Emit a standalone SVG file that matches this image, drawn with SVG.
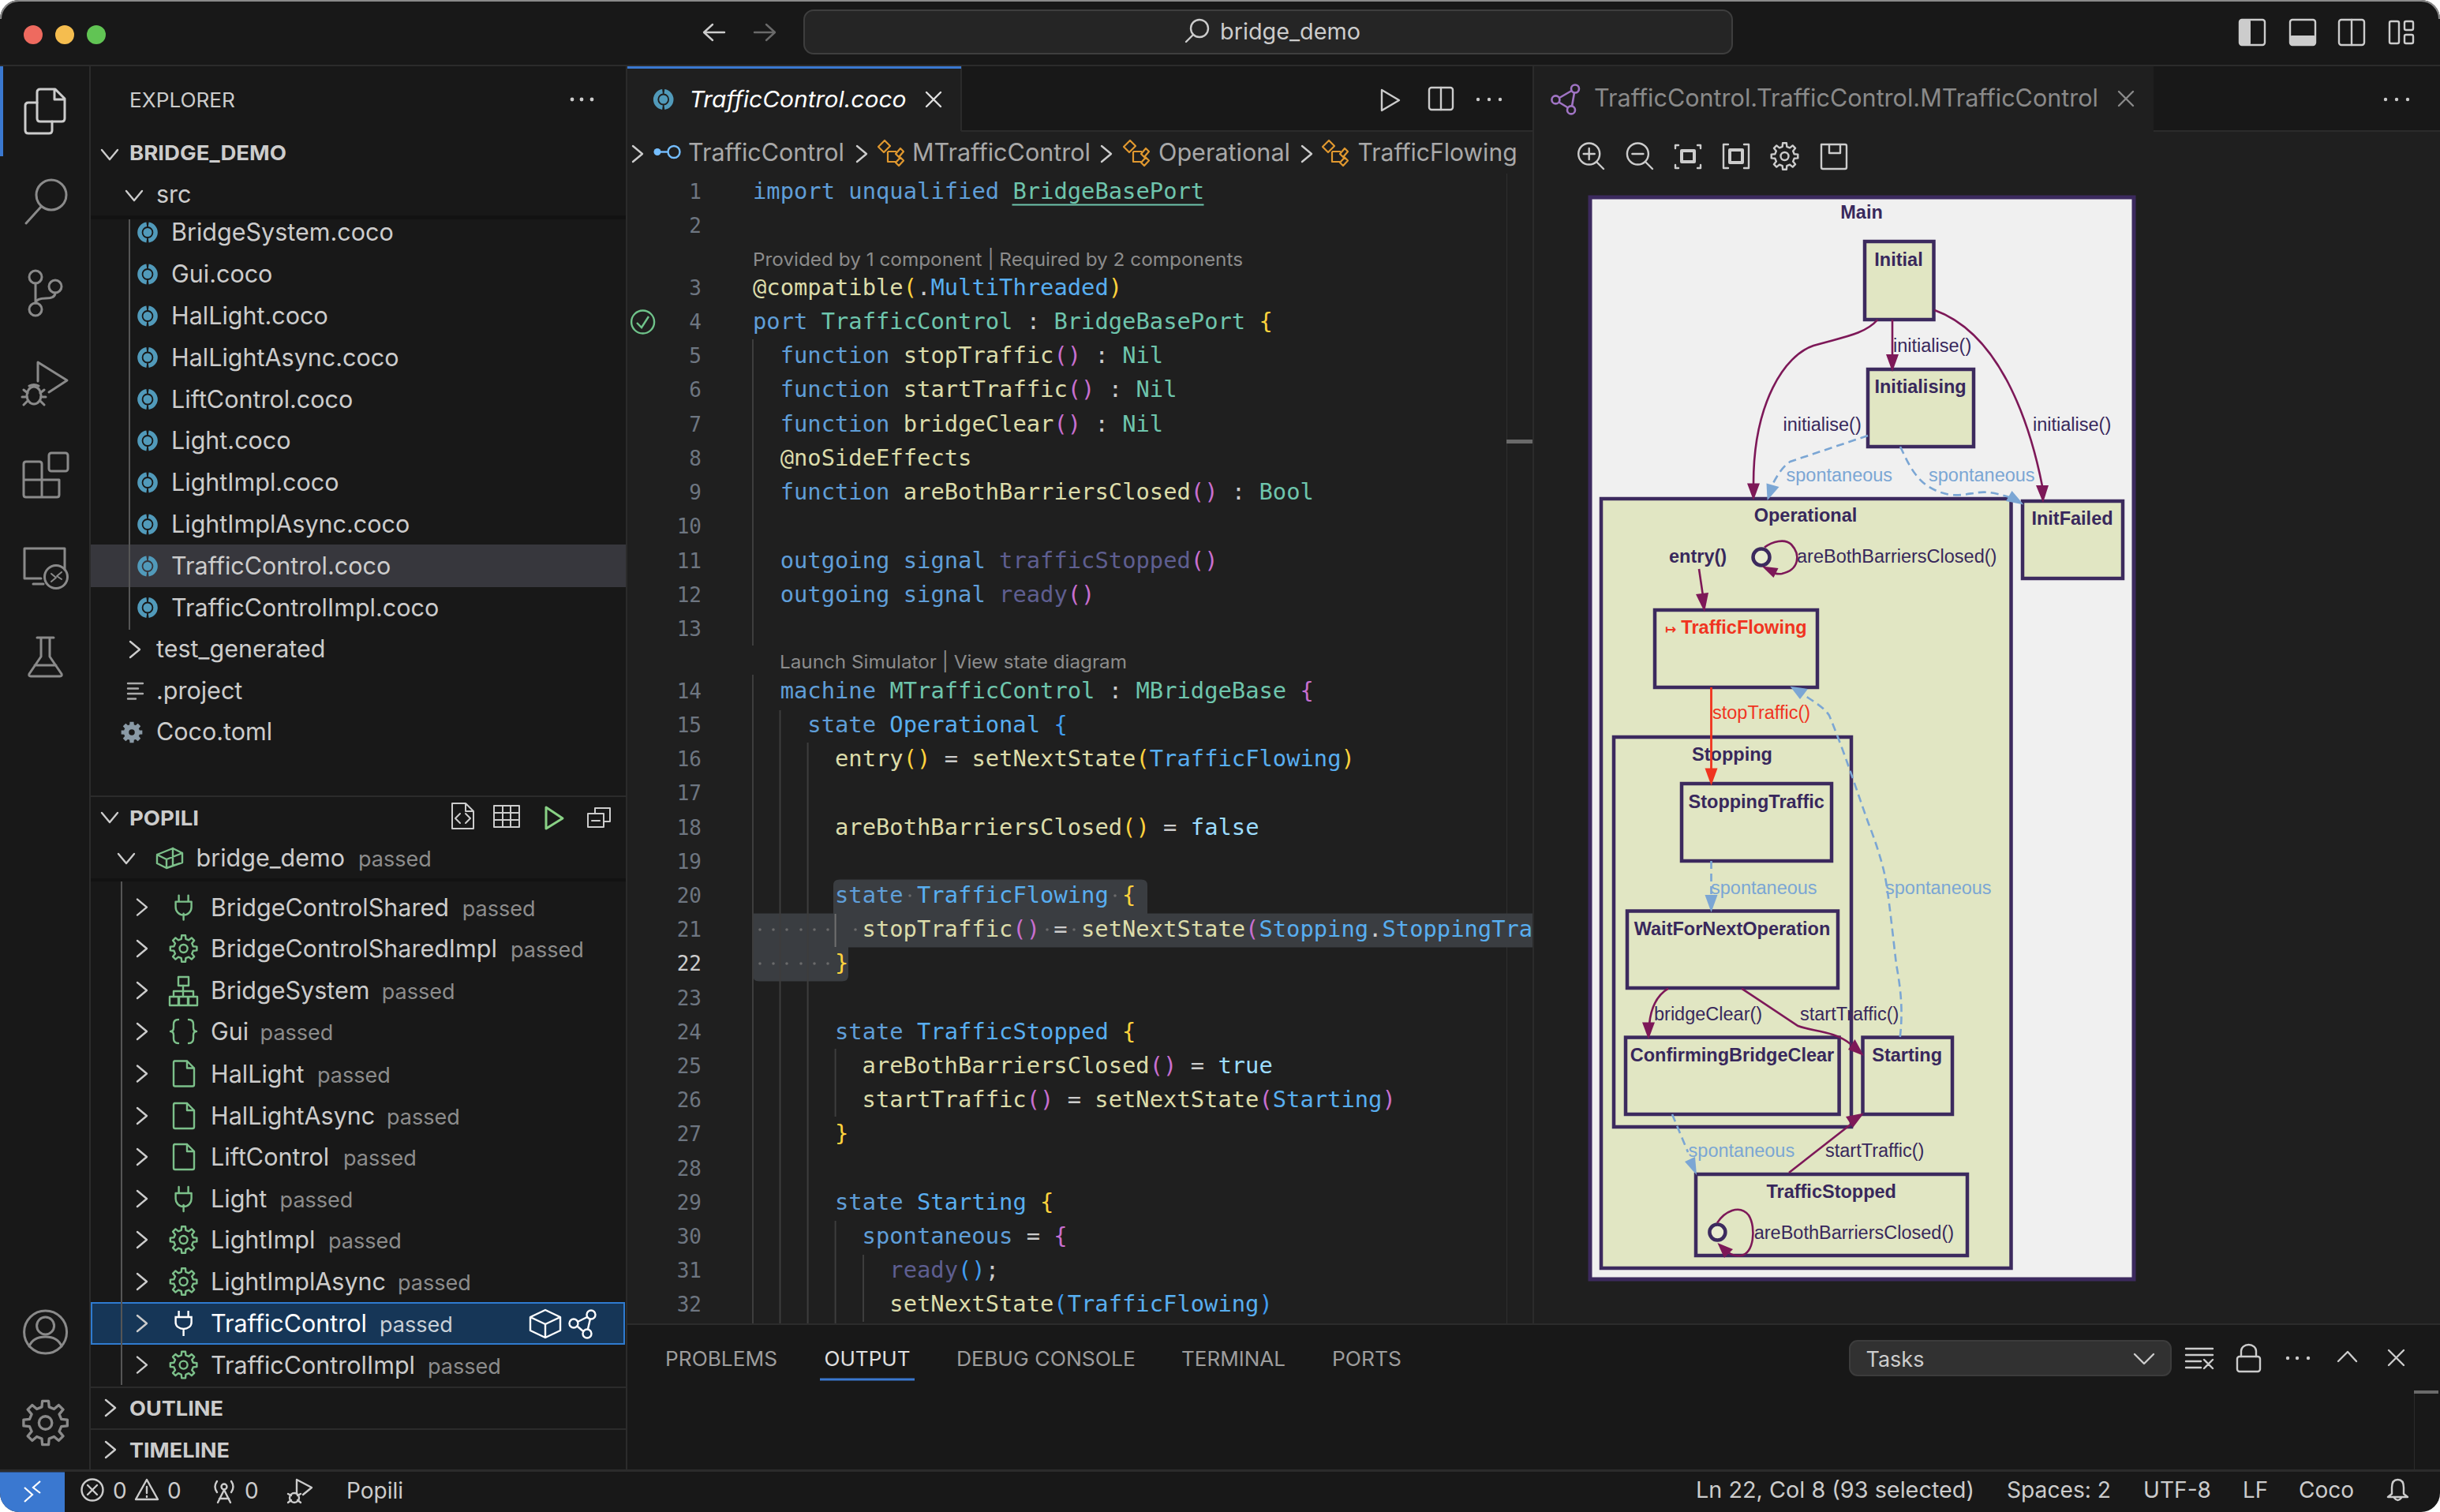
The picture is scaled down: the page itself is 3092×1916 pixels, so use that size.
<svg xmlns="http://www.w3.org/2000/svg" xmlns:xlink="http://www.w3.org/1999/xlink" width="3092" height="1916" viewBox="0 0 3092 1916">
<style>
text{font-family:"Inter","Liberation Sans",sans-serif;white-space:pre}
.ui{font-size:30.5px;fill:#cccccc}
.hd{font-size:25.5px;fill:#cccccc}
.hb{font-size:25.5px;fill:#cccccc;font-weight:700}
.ps{font-size:27px;fill:#8c8c8c}
.st{font-size:28px;fill:#cccccc}
.pn{font-size:25.5px;fill:#9d9d9d}
.ln{font-family:"DejaVu Sans Mono","Liberation Mono",monospace;font-size:26px;fill:#6e7681;text-anchor:end}
.c{font-family:"DejaVu Sans Mono","Liberation Mono",monospace;font-size:28.8px;fill:#cccccc}
.cl{font-size:23.5px;fill:#8c8c8c}
.k{fill:#5f9ed8}.t{fill:#6ec5ad}.f{fill:#dcdcaa}.p{fill:#c86fd0}.y{fill:#ffd33d}.b{fill:#3f9cf0}.s{fill:#58aef0}.g{fill:#5e5e90}.w{fill:#cccccc}.l{fill:#9cdcfe}
.ic{fill:none;stroke:#cccccc;stroke-width:2.4;stroke-linecap:round;stroke-linejoin:round}
.ac{fill:none;stroke:#8a8a8a;stroke-width:3;stroke-linecap:round;stroke-linejoin:round}
.gr{fill:none;stroke:#7cc08a;stroke-width:2.4;stroke-linecap:round;stroke-linejoin:round}
.or{fill:none;stroke:#e0982f;stroke-width:2.2;stroke-linejoin:round}
.gd{stroke:#3d3d3d;stroke-width:2;fill:none}
.ws{fill:#6a6a6a}
.box{fill:#e1e6c3;stroke:#3c2a5e;stroke-width:4.5}
.nm{font-family:"Liberation Sans",Arial,sans-serif;font-size:23.5px;font-weight:700;fill:#38285c;text-anchor:middle}
.lb{font-family:"Liberation Sans",Arial,sans-serif;font-size:23.5px;fill:#38285c}
.sp{font-family:"Liberation Sans",Arial,sans-serif;font-size:23.5px;fill:#7ba6d4}
.e1{fill:none;stroke:#7d1858;stroke-width:2.6}
.e2{fill:none;stroke:#7ba6d4;stroke-width:2.6;stroke-dasharray:10 6}
.h1{fill:#7d1858}.h2{fill:#7ba6d4}
</style>
<defs>
<g id="coco"><path d="M1.2,-10.2A10.3,10.3 0 0 1 1.2,10.2M-1.2,10.2A10.3,10.3 0 0 1 -1.2,-10.2" fill="none" stroke="#519aba" stroke-width="5.5"/><circle r="5.5" fill="#519aba"/></g>
<polygon id="gearp" points="-2.8,-12.2 -2.4,-16.8 2.4,-16.8 2.8,-12.2 6.6,-10.6 10.2,-13.6 13.6,-10.2 10.6,-6.6 12.2,-2.8 16.8,-2.4 16.8,2.4 12.2,2.8 10.6,6.6 13.6,10.2 10.2,13.6 6.6,10.6 2.8,12.2 2.4,16.8 -2.4,16.8 -2.8,12.2 -6.6,10.6 -10.2,13.6 -13.6,10.2 -10.6,6.6 -12.2,2.8 -16.8,2.4 -16.8,-2.4 -12.2,-2.8 -10.6,-6.6 -13.6,-10.2 -10.2,-13.6 -6.6,-10.6"/>
<g id="gear" class="gr"><use href="#gearp"/><circle r="5"/></g>
<g id="plug" class="gr"><path d="M-6,-16V-8M6,-16V-8M-10,-8H10V-1A8,8 0 0 1 -10,-1ZM0,7V15" transform="translate(0,1)"/></g>
<g id="file" class="gr"><path d="M-12,-16H4L13,-7V14Q13,16 11,16H-11Q-13,16 -13,14V-14Q-13,-16 -11,-16ZM4,-16V-7H13"/></g>
<path id="chev" d="M-6,-10L6,0L-6,10" class="ic"/>
<path id="chevd" d="M-10,-6L0,6L10,-6" class="ic"/>
<g id="orange" class="or"><path d="M-17,-8L-9,-16L-2,-9L-10,-1ZM5,1L11,-6L15,-2L9,5ZM5,12L11,5.5L15,9.5L9,16Z"/><path d="M-5,-2H6M-5,-2V11H5"/></g>
</defs>

<g id="window">
<rect width="3092" height="1916" fill="#ffffff"/>
<rect x="0" y="0" width="3092" height="1916" rx="24" fill="#181818"/>
<path d="M1,24A23,23 0 0 1 24,1H3068A23,23 0 0 1 3091,24" fill="none" stroke="#8a8a8a" stroke-width="2"/>
</g>

<g id="titlebar">
<circle cx="42" cy="44" r="12" fill="#ee6a5f"/><circle cx="82" cy="44" r="12" fill="#f5bd4f"/><circle cx="122" cy="44" r="12" fill="#61c454"/>
<path d="M918,41H893M903,31L892,41L903,51" class="ic"/>
<path d="M956,41H981M971,31L982,41L971,51" class="ic" style="stroke:#6a6a6a"/>
<rect x="1019" y="13" width="1176" height="55" rx="12" fill="#252525" stroke="#3e3e3e" stroke-width="2"/>
<circle cx="1520" cy="36" r="11" class="ic"/><path d="M1512,44L1503,53" class="ic"/>
<text x="1546" y="50" class="st" textLength="178" lengthAdjust="spacingAndGlyphs">bridge_demo</text>
<g class="ic"><rect x="2838" y="25" width="32" height="32" rx="3"/><rect x="2902" y="25" width="32" height="32" rx="3"/><rect x="2964" y="25" width="32" height="32" rx="3"/><path d="M2980,25V57"/><rect x="3028" y="27" width="12" height="28" rx="2"/><rect x="3047" y="27" width="11" height="11" rx="2"/><rect x="3047" y="44" width="11" height="11" rx="2"/></g>
<rect x="2838" y="25" width="14" height="32" rx="2" fill="#cccccc"/><rect x="2902" y="45" width="32" height="12" rx="2" fill="#cccccc"/>
<rect x="0" y="82" width="3092" height="2" fill="#2b2b2b"/>
</g>

<g id="activitybar">
<rect x="113" y="84" width="2" height="1780" fill="#2b2b2b"/>
<rect x="0" y="84" width="4" height="114" fill="#3a78d0"/>
<g class="ac" style="stroke:#cccccc"><path d="M47,130H36Q32,130 32,134V165Q32,169 36,169H62Q66,169 66,165V154"/><path d="M51,113H70L82,125V150Q82,154 78,154H51Q47,154 47,150V117Q47,113 51,113ZM69,113V126H82"/></g>
<g class="ac"><circle cx="65" cy="247" r="19"/><path d="M52,262L33,283"/>
<circle cx="45" cy="351" r="8"/><circle cx="70" cy="363" r="8"/><circle cx="45" cy="392" r="8"/><path d="M45,359V384M70,371Q70,378 58,378Q46,378 45,384"/>
<path d="M48,483V459L85,482L62,497"/><ellipse cx="43" cy="501" rx="9" ry="11"/><path d="M37,489Q43,486 49,489M30,494L35,498M28,503H34M30,513L35,508M56,494L51,498M58,503H52M56,513L51,508"/>
<path d="M30,608V588Q30,585 33,585H50Q53,585 53,588V630M30,608H75M30,608V627Q30,630 33,630H72Q75,630 75,627V608"/><rect x="62" y="574" width="24" height="23" rx="3"/>
<path d="M82,722V695H31V733H52M42,740H55"/><circle cx="71" cy="731" r="14.5"/><path d="M65,727L71,732L65,737M78,725L72,730L78,734" style="stroke-width:2"/>
<path d="M47,808H68M52,808V832L37,854Q36,857 39,857H76Q79,857 78,854L63,832V808M44,843H71"/>
<circle cx="57.6" cy="1688" r="27"/><circle cx="57.6" cy="1680" r="11"/><path d="M37,1706Q42,1694 57.6,1694Q73,1694 78,1706"/>
<g transform="translate(57.6,1803) scale(1.65)" style="stroke-width:2"><use href="#gearp"/><circle r="5"/></g></g>
</g>

<g id="sidebar">
<rect x="793" y="84" width="2" height="1780" fill="#2b2b2b"/>
<text x="164" y="136" class="hd" textLength="134" lengthAdjust="spacingAndGlyphs">EXPLORER</text>
<g fill="#cccccc"><circle cx="725" cy="126" r="2.4"/><circle cx="737" cy="126" r="2.4"/><circle cx="750" cy="126" r="2.4"/></g>
<use href="#chevd" x="139" y="196"/>
<text x="164" y="203" class="hb" textLength="199" lengthAdjust="spacingAndGlyphs">BRIDGE_DEMO</text>
<use href="#chevd" x="170" y="248"/>
<text x="198" y="257" class="ui">src</text>
<rect x="115" y="273" width="678" height="5" fill="#121212"/>
<rect x="115" y="690" width="678" height="54" fill="#37373d"/>
<rect x="163" y="278" width="2" height="520" fill="#555555"/>
<use href="#coco" x="187" y="294.5"/><text x="217" y="305" class="ui">BridgeSystem.coco</text>
<use href="#coco" x="187" y="347.5"/><text x="217" y="358" class="ui">Gui.coco</text>
<use href="#coco" x="187" y="400.5"/><text x="217" y="411" class="ui">HalLight.coco</text>
<use href="#coco" x="187" y="453"/><text x="217" y="463.5" class="ui">HalLightAsync.coco</text>
<use href="#coco" x="187" y="506"/><text x="217" y="516.5" class="ui">LiftControl.coco</text>
<use href="#coco" x="187" y="558.5"/><text x="217" y="569" class="ui">Light.coco</text>
<use href="#coco" x="187" y="611.5"/><text x="217" y="622" class="ui">LightImpl.coco</text>
<use href="#coco" x="187" y="664.5"/><text x="217" y="675" class="ui">LightImplAsync.coco</text>
<use href="#coco" x="187" y="717.5"/><text x="217" y="728" class="ui">TrafficControl.coco</text>
<use href="#coco" x="187" y="770"/><text x="217" y="780.5" class="ui">TrafficControlImpl.coco</text>
<use href="#chev" x="171" y="823"/><text x="198" y="833" class="ui">test_generated</text>
<path d="M162,866H181M162,872.5H175M162,879H181M162,885.5H172" class="ic" style="stroke:#aaaaaa"/><text x="198" y="885.5" class="ui">.project</text>
<g transform="translate(167,928) scale(.75)"><use href="#gearp" style="fill:#8a9aa6;stroke:#8a9aa6;stroke-width:2"/><circle r="5" fill="#181818"/></g><text x="198" y="938" class="ui">Coco.toml</text>

<rect x="115" y="1008" width="678" height="2" fill="#2b2b2b"/>
<use href="#chevd" x="139" y="1036"/>
<text x="164" y="1045.5" class="hb" textLength="88" lengthAdjust="spacingAndGlyphs">POPILI</text>
<g class="ic"><path d="M573,1018H590L600,1028V1050H573ZM590,1018V1028H600M583,1031L577,1037L583,1043M590,1031L596,1037L590,1043" style="stroke-width:2"/><rect x="626" y="1021" width="32" height="27" style="stroke-width:2"/><path d="M626,1030H658M626,1039H658M637,1021V1048M647,1021V1048" style="stroke-width:2"/>
<path d="M754,1031V1024H773V1041H766M745,1031H765V1048H745ZM750,1040H760" style="stroke-width:2"/></g>
<path d="M692,1023L713,1037L692,1050Z" fill="none" stroke="#89d185" stroke-width="3" stroke-linejoin="round"/>
<use href="#chevd" x="160" y="1088"/>
<path d="M199,1083L219,1075L231,1081V1093L211,1100L199,1094ZM199,1083L211,1089L231,1081M211,1089V1100M219,1075V1096" class="gr"/>
<text x="248.5" y="1098" class="ui">bridge_demo</text><text x="454" y="1098" class="ps">passed</text>
<rect x="115" y="1113" width="678" height="4" fill="#121212"/>
<rect x="116" y="1651" width="675" height="52" fill="#163657" stroke="#2f7bd0" stroke-width="2"/>
<rect x="153" y="1117" width="2" height="638" fill="#555555"/>

<use href="#chev" x="180" y="1149.6"/><use href="#plug" x="232.6" y="1149.6"/><text x="267" y="1160.6" class="ui">BridgeControlShared</text><text x="585.7" y="1160.6" class="ps">passed</text>
<use href="#chev" x="180" y="1202"/><use href="#gear" x="232.6" y="1202"/><text x="267" y="1213" class="ui">BridgeControlSharedImpl</text><text x="647" y="1213" class="ps">passed</text>
<use href="#chev" x="180" y="1255"/><g class="gr"><rect x="226" y="1238" width="13" height="11"/><rect x="215" y="1263" width="11" height="11"/><rect x="227" y="1263" width="11" height="11"/><rect x="239" y="1263" width="11" height="11"/><path d="M232,1249V1263M220,1263V1256H245V1263"/></g><text x="267" y="1266" class="ui">BridgeSystem</text><text x="483.7" y="1266" class="ps">passed</text>
<use href="#chev" x="180" y="1307"/><path d="M226,1292Q220,1292 220,1298V1302Q220,1307 216,1307Q220,1307 220,1312V1316Q220,1322 226,1322M239,1292Q245,1292 245,1298V1302Q245,1307 249,1307Q245,1307 245,1312V1316Q245,1322 239,1322" class="gr"/><text x="267" y="1318" class="ui">Gui</text><text x="329.6" y="1318" class="ps">passed</text>
<use href="#chev" x="180" y="1360.5"/><use href="#file" x="233" y="1360.5"/><text x="267" y="1371.5" class="ui">HalLight</text><text x="402" y="1371.5" class="ps">passed</text>
<use href="#chev" x="180" y="1414"/><use href="#file" x="233" y="1414"/><text x="267" y="1425" class="ui">HalLightAsync</text><text x="490" y="1425" class="ps">passed</text>
<use href="#chev" x="180" y="1466"/><use href="#file" x="233" y="1466"/><text x="267" y="1477" class="ui">LiftControl</text><text x="435" y="1477" class="ps">passed</text>
<use href="#chev" x="180" y="1519"/><use href="#plug" x="232.6" y="1519"/><text x="267" y="1530" class="ui">Light</text><text x="354.6" y="1530" class="ps">passed</text>
<use href="#chev" x="180" y="1571"/><use href="#gear" x="232.6" y="1571"/><text x="267" y="1582" class="ui">LightImpl</text><text x="416" y="1582" class="ps">passed</text>
<use href="#chev" x="180" y="1624"/><use href="#gear" x="232.6" y="1624"/><text x="267" y="1635" class="ui">LightImplAsync</text><text x="504" y="1635" class="ps">passed</text>
<use href="#chev" x="180" y="1677"/><path d="M226.6,1661V1669M238.6,1661V1669M222.6,1669H242.6V1676A10,8 0 0 1 222.6,1676ZM232.6,1684V1693" fill="none" stroke="#ffffff" stroke-width="2.4"/><text x="267" y="1688" class="ui" style="fill:#ffffff">TrafficControl</text><text x="481" y="1688" class="ps" style="fill:#c8d0d8">passed</text>
<g fill="none" stroke="#ffffff" stroke-width="2.4" stroke-linejoin="round"><path d="M672,1669L691,1660L710,1669V1686L691,1695L672,1686ZM672,1669L691,1678L710,1669M691,1678V1695"/><circle cx="749" cy="1666" r="5.5"/><circle cx="727" cy="1677" r="5.5"/><circle cx="744" cy="1690" r="5.5"/><path d="M732,1675L744,1669M732,1681L739,1687M748,1671L745,1684"/></g>
<use href="#chev" x="180" y="1729.6"/><use href="#gear" x="232.6" y="1729.6"/><text x="267" y="1740.6" class="ui">TrafficControlImpl</text><text x="542" y="1740.6" class="ps">passed</text>
<rect x="115" y="1757" width="678" height="2" fill="#2b2b2b"/>
<use href="#chev" x="140" y="1784"/><text x="164" y="1794" class="hb" textLength="119" lengthAdjust="spacingAndGlyphs">OUTLINE</text>
<rect x="115" y="1810" width="678" height="2" fill="#2b2b2b"/>
<use href="#chev" x="140" y="1837"/><text x="164" y="1847" class="hb" textLength="127" lengthAdjust="spacingAndGlyphs">TIMELINE</text>
</g>

<g id="editor">
<rect x="795" y="84" width="1148" height="1594" fill="#1f1f1f"/>
<rect x="1218" y="84" width="725" height="82" fill="#181818"/>
<rect x="1218" y="165" width="725" height="2" fill="#2b2b2b"/>
<rect x="1217" y="84" width="2" height="82" fill="#2b2b2b"/>
<rect x="795" y="84" width="423" height="3" fill="#3a78d0"/>
<use href="#coco" x="840.7" y="126"/>
<text x="873.6" y="136" style="font-size:29px;font-style:italic;fill:#ffffff" textLength="275" lengthAdjust="spacingAndGlyphs">TrafficControl.coco</text>
<path d="M1174,117L1192,135M1192,117L1174,135" class="ic" style="stroke:#e0e0e0"/>
<path d="M1751,114L1773,127L1751,140Z" class="ic"/>
<rect x="1811" y="111" width="30" height="28" rx="3" class="ic"/><path d="M1826,111V139" class="ic"/>
<g fill="#cccccc"><circle cx="1873" cy="126" r="2.2"/><circle cx="1887" cy="126" r="2.2"/><circle cx="1901" cy="126" r="2.2"/></g>

<use href="#chev" x="808" y="195"/>
<circle cx="833" cy="192.5" r="4.5" fill="#75beff"/><path d="M837,192.5H846" stroke="#75beff" stroke-width="2.4"/><circle cx="854" cy="192.5" r="7.5" fill="none" stroke="#75beff" stroke-width="2.4"/>
<text x="872" y="204" class="ui" style="fill:#a8a8a8" textLength="198" lengthAdjust="spacingAndGlyphs">TrafficControl</text>
<use href="#chev" x="1092" y="195"/><use href="#orange" x="1130" y="194"/>
<text x="1156" y="204" class="ui" style="fill:#a8a8a8" textLength="226" lengthAdjust="spacingAndGlyphs">MTrafficControl</text>
<use href="#chev" x="1402" y="195"/><use href="#orange" x="1441" y="194"/>
<text x="1468" y="204" class="ui" style="fill:#a8a8a8" textLength="167" lengthAdjust="spacingAndGlyphs">Operational</text>
<use href="#chev" x="1656" y="195"/><use href="#orange" x="1693" y="194"/>
<text x="1720.6" y="204" class="ui" style="fill:#a8a8a8" textLength="202" lengthAdjust="spacingAndGlyphs">TrafficFlowing</text>

<rect x="1909" y="220" width="1" height="1458" fill="#2f2f2f"/>
<rect x="1909" y="557" width="34" height="5" fill="#6a6a6a"/>

<path d="M1056,1157.6V1122Q1056,1114.6 1064,1114.6H1446Q1454,1114.6 1454,1122V1157.6H1943V1200.6H1075V1236Q1075,1243.6 1067,1243.6H962Q954,1243.6 954,1236V1157.6Z" fill="#3a3d41"/>

<path class="gd" d="M954,430V818M954,855V1678M988.5,900V1678M1023.6,941V1678M1058.6,1329V1415M1058.6,1547V1678M1094,1590V1675"/>
<path d="M1058.6,1158V1200" stroke="#707070" stroke-width="2"/>

<circle cx="814.6" cy="408" r="14.5" fill="none" stroke="#6fc38a" stroke-width="2.4"/><path d="M807,409L813,415L822,401" fill="none" stroke="#6fc38a" stroke-width="2.4"/>

<g id="gutter">
<text x="889" y="252" class="ln">1</text><text x="889" y="295" class="ln">2</text><text x="889" y="373.5" class="ln">3</text><text x="889" y="416.7" class="ln">4</text><text x="889" y="460" class="ln">5</text><text x="889" y="503" class="ln">6</text><text x="889" y="546.5" class="ln">7</text><text x="889" y="590" class="ln">8</text><text x="889" y="633" class="ln">9</text><text x="889" y="676" class="ln">10</text><text x="889" y="719.5" class="ln">11</text><text x="889" y="763" class="ln">12</text><text x="889" y="806" class="ln">13</text><text x="889" y="885" class="ln">14</text><text x="889" y="928" class="ln">15</text><text x="889" y="971.2" class="ln">16</text><text x="889" y="1014.4" class="ln">17</text><text x="889" y="1057.6" class="ln">18</text><text x="889" y="1100.8" class="ln">19</text><text x="889" y="1144" class="ln">20</text><text x="889" y="1187.2" class="ln">21</text><text x="889" y="1230.4" class="ln" style="fill:#cccccc">22</text><text x="889" y="1273.6" class="ln">23</text><text x="889" y="1316.8" class="ln">24</text><text x="889" y="1360" class="ln">25</text><text x="889" y="1403.2" class="ln">26</text><text x="889" y="1446.4" class="ln">27</text><text x="889" y="1489.6" class="ln">28</text><text x="889" y="1532.8" class="ln">29</text><text x="889" y="1576" class="ln">30</text><text x="889" y="1619.2" class="ln">31</text><text x="889" y="1662.4" class="ln">32</text>
</g>

<g id="code">
<text x="954" y="252" class="c"><tspan class="k">import unqualified </tspan><tspan class="t">BridgeBasePort</tspan></text>
<rect x="1282.5" y="258.5" width="243" height="2" fill="#6ec5ad"/>
<text x="954" y="336.6" class="cl" textLength="621" lengthAdjust="spacingAndGlyphs">Provided by 1 component | Required by 2 components</text>
<text x="954" y="373.5" class="c"><tspan class="f">@compatible</tspan><tspan class="y">(</tspan><tspan class="w">.</tspan><tspan class="s">MultiThreaded</tspan><tspan class="y">)</tspan></text>
<text x="954" y="416.7" class="c"><tspan class="k">port </tspan><tspan class="t">TrafficControl</tspan><tspan class="w"> : </tspan><tspan class="t">BridgeBasePort</tspan><tspan class="y"> {</tspan></text>
<text x="988.7" y="460" class="c"><tspan class="k">function </tspan><tspan class="f">stopTraffic</tspan><tspan class="p">()</tspan><tspan class="w"> : </tspan><tspan class="t">Nil</tspan></text>
<text x="988.7" y="503" class="c"><tspan class="k">function </tspan><tspan class="f">startTraffic</tspan><tspan class="p">()</tspan><tspan class="w"> : </tspan><tspan class="t">Nil</tspan></text>
<text x="988.7" y="546.5" class="c"><tspan class="k">function </tspan><tspan class="f">bridgeClear</tspan><tspan class="p">()</tspan><tspan class="w"> : </tspan><tspan class="t">Nil</tspan></text>
<text x="988.7" y="590" class="c"><tspan class="f">@noSideEffects</tspan></text>
<text x="988.7" y="633" class="c"><tspan class="k">function </tspan><tspan class="f">areBothBarriersClosed</tspan><tspan class="p">()</tspan><tspan class="w"> : </tspan><tspan class="t">Bool</tspan></text>
<text x="988.7" y="719.5" class="c"><tspan class="k">outgoing signal </tspan><tspan class="g">trafficStopped</tspan><tspan class="p">()</tspan></text>
<text x="988.7" y="763" class="c"><tspan class="k">outgoing signal </tspan><tspan class="g">ready</tspan><tspan class="p">()</tspan></text>
<text x="988" y="847" class="cl" textLength="440" lengthAdjust="spacingAndGlyphs">Launch Simulator | View state diagram</text>
<text x="988.7" y="885" class="c"><tspan class="k">machine </tspan><tspan class="t">MTrafficControl</tspan><tspan class="w"> : </tspan><tspan class="t">MBridgeBase</tspan><tspan class="p"> {</tspan></text>
<text x="1023.3" y="928" class="c"><tspan class="k">state </tspan><tspan class="s">Operational</tspan><tspan class="b"> {</tspan></text>
<text x="1058" y="971.2" class="c"><tspan class="f">entry</tspan><tspan class="y">()</tspan><tspan class="w"> = </tspan><tspan class="f">setNextState</tspan><tspan class="y">(</tspan><tspan class="s">TrafficFlowing</tspan><tspan class="y">)</tspan></text>
<text x="1058" y="1057.6" class="c"><tspan class="f">areBothBarriersClosed</tspan><tspan class="y">()</tspan><tspan class="w"> = </tspan><tspan class="l">false</tspan></text>
<text x="1058" y="1144" class="c"><tspan class="k">state </tspan><tspan class="s">TrafficFlowing</tspan><tspan class="y"> {</tspan></text>
<text x="1092.6" y="1187.2" class="c"><tspan class="f">stopTraffic</tspan><tspan class="p">()</tspan><tspan class="w"> = </tspan><tspan class="f">setNextState</tspan><tspan class="p">(</tspan><tspan class="s">Stopping</tspan><tspan class="w">.</tspan><tspan class="s">StoppingTra</tspan></text>
<text x="1058" y="1230.4" class="c"><tspan class="y">}</tspan></text>
<text x="1058" y="1316.8" class="c"><tspan class="k">state </tspan><tspan class="s">TrafficStopped</tspan><tspan class="y"> {</tspan></text>
<text x="1092.6" y="1360" class="c"><tspan class="f">areBothBarriersClosed</tspan><tspan class="p">()</tspan><tspan class="w"> = </tspan><tspan class="l">true</tspan></text>
<text x="1092.6" y="1403.2" class="c"><tspan class="f">startTraffic</tspan><tspan class="p">()</tspan><tspan class="w"> = </tspan><tspan class="f">setNextState</tspan><tspan class="p">(</tspan><tspan class="s">Starting</tspan><tspan class="p">)</tspan></text>
<text x="1058" y="1446.4" class="c"><tspan class="y">}</tspan></text>
<text x="1058" y="1532.8" class="c"><tspan class="k">state </tspan><tspan class="s">Starting</tspan><tspan class="y"> {</tspan></text>
<text x="1092.6" y="1576" class="c"><tspan class="k">spontaneous</tspan><tspan class="w"> = </tspan><tspan class="p">{</tspan></text>
<text x="1127.3" y="1619.2" class="c"><tspan class="g">ready</tspan><tspan class="b">()</tspan><tspan class="w">;</tspan></text>
<text x="1127.3" y="1662.4" class="c"><tspan class="f">setNextState</tspan><tspan class="b">(</tspan><tspan class="s">TrafficFlowing</tspan><tspan class="b">)</tspan></text>
</g>
<g class="ws">
<circle cx="1153" cy="1135" r="1.8"/><circle cx="1413" cy="1135" r="1.8"/>
<circle cx="963" cy="1178" r="1.8"/><circle cx="980" cy="1178" r="1.8"/><circle cx="997" cy="1178" r="1.8"/><circle cx="1015" cy="1178" r="1.8"/><circle cx="1032" cy="1178" r="1.8"/><circle cx="1049" cy="1178" r="1.8"/><circle cx="1084" cy="1178" r="1.8"/><circle cx="1327" cy="1178" r="1.8"/><circle cx="1361" cy="1178" r="1.8"/>
<circle cx="963" cy="1221" r="1.8"/><circle cx="980" cy="1221" r="1.8"/><circle cx="997" cy="1221" r="1.8"/><circle cx="1015" cy="1221" r="1.8"/><circle cx="1032" cy="1221" r="1.8"/><circle cx="1049" cy="1221" r="1.8"/>
</g>
</g>

<g id="diagram-pane">
<rect x="1943" y="84" width="1149" height="1594" fill="#1f1f1f"/>
<rect x="2729" y="84" width="363" height="82" fill="#181818"/>
<rect x="2729" y="165" width="363" height="2" fill="#2b2b2b"/>
<rect x="1942" y="84" width="2" height="1594" fill="#2b2b2b"/>
<g fill="none" stroke="#a074c4" stroke-width="2.6"><circle cx="1996" cy="112.5" r="5"/><circle cx="1971.4" cy="126.4" r="5"/><circle cx="1991" cy="139.4" r="5"/><path d="M1976,124L1991.5,115M1975.5,129.5L1987,136.5M1995,117.5L1992,134.5"/></g>
<text x="2020" y="135" class="ui" style="fill:#8a8a8a" textLength="639" lengthAdjust="spacingAndGlyphs">TrafficControl.TrafficControl.MTrafficControl</text>
<path d="M2685,116L2703,134M2703,116L2685,134" class="ic" style="stroke:#8a8a8a"/>
<g fill="#cccccc"><circle cx="3023" cy="126" r="2.2"/><circle cx="3037" cy="126" r="2.2"/><circle cx="3051" cy="126" r="2.2"/></g>
<g class="ic">
<circle cx="2013.7" cy="195" r="13.5"/><path d="M2023,205L2032,214M2013.7,188V202M2006.7,195H2020.7"/>
<circle cx="2075.4" cy="195" r="13.5"/><path d="M2085,205L2094,214M2068.4,195H2082.4"/>
<path d="M2123,184V188M2123,184H2127M2155,184V188M2155,184H2151M2123,213V209M2123,213H2127M2155,213V209M2155,213H2151"/><rect x="2131" y="191" width="16" height="14" style="stroke-width:4;stroke:#cccccc"/>
<path d="M2190,183H2184V213H2190M2210,183H2216V213H2210"/><rect x="2192" y="190" width="16" height="16" style="stroke-width:4"/>
<g transform="translate(2261.5,198)"><use href="#gearp"/><circle r="5"/></g>
<path d="M2308,183H2338Q2340,183 2340,185V212Q2340,214 2338,214H2310Q2308,214 2308,212ZM2318,183V194H2332V183"/>
</g>

<g id="Main"><rect x="2015" y="250" width="689" height="1371" fill="#f0f0f0" stroke="#3c2a5e" stroke-width="5"/><text x="2359" y="277" class="nm">Main</text></g>
<g id="Initial"><rect x="2363" y="306" width="87.5" height="99" class="box"/><text x="2406" y="337" class="nm">Initial</text></g>
<g id="Initialising"><rect x="2367" y="468" width="134" height="98" class="box"/><text x="2433.6" y="498" class="nm">Initialising</text></g>
<g id="Operational"><rect x="2029" y="632" width="519.5" height="975" class="box"/><text x="2288" y="661" class="nm">Operational</text></g>
<g id="InitFailed"><rect x="2563" y="635" width="127" height="98" class="box"/><text x="2626" y="665" class="nm">InitFailed</text></g>
<g id="TrafficFlowing"><rect x="2097" y="773" width="206" height="98" class="box"/><text x="2110" y="803" style="font-family:'DejaVu Sans',sans-serif;font-size:17px;font-weight:700;fill:#f0341f">↦</text><text x="2210" y="803" class="nm" style="fill:#f0341f">TrafficFlowing</text></g>
<g id="Stopping"><rect x="2045" y="934" width="301" height="494" class="box"/><text x="2195" y="964" class="nm">Stopping</text></g>
<g id="StoppingTraffic"><rect x="2131" y="993" width="190" height="98" class="box"/><text x="2225.7" y="1024" class="nm">StoppingTraffic</text></g>
<g id="WaitForNextOperation"><rect x="2062" y="1154.5" width="267" height="97.5" class="box"/><text x="2195" y="1185" class="nm">WaitForNextOperation</text></g>
<g id="ConfirmingBridgeClear"><rect x="2060" y="1314.6" width="270.6" height="97.4" class="box"/><text x="2195" y="1345" class="nm">ConfirmingBridgeClear</text></g>
<g id="Starting"><rect x="2360.5" y="1314.6" width="113.5" height="97.4" class="box"/><text x="2416.7" y="1345" class="nm">Starting</text></g>
<g id="TrafficStopped"><rect x="2149" y="1488" width="344" height="103" class="box"/><text x="2320.7" y="1518" class="nm">TrafficStopped</text></g>
<g id="op-entry"><text x="2115" y="713" class="lb" style="font-weight:700">entry()</text><circle cx="2232" cy="706" r="10.5" fill="#e9ecd0" stroke="#3c2a5e" stroke-width="4.5"/></g>
<g id="ts-loop"><circle cx="2176.4" cy="1561.5" r="10" fill="#e9ecd0" stroke="#3c2a5e" stroke-width="4.5"/></g>

<g id="connectors">
<path class="e1" d="M2379.4,405C2362,425 2330,428 2298,438C2262,450 2222,510 2222,613"/><polygon class="h1" points="2222,634 2214,612.5 2230,612.5"/>
<path class="e1" d="M2398,405V450"/><polygon class="h1" points="2398,471 2390,449 2406,449"/>
<path class="e1" d="M2451.5,393C2540,425 2575,550 2588,616"/><polygon class="h1" points="2589,637 2580,615 2596,615"/>
<path class="e2" d="M2367,552L2268.5,585C2258,592 2252,603 2246,614"/><polygon class="h2" points="2239.6,634 2238.5,612.5 2254.5,617"/>
<path class="e2" d="M2408,566C2420,590 2430,620 2472,627C2490,629 2505,622 2520,624C2530,625 2540,628 2549,631"/><polygon class="h2" points="2564.5,639.5 2542,635 2549.5,622"/>
<path class="e1" d="M2236,693.6C2246,686 2262,682 2270,690C2282,703 2280,722 2258,727C2252,728 2246,726 2244,724"/><polygon class="h1" points="2232.6,717.5 2253.5,720 2247.5,732"/>
<path class="e1" d="M2153,721L2158,755"/><polygon class="h1" points="2160,775.6 2149,753 2165,751"/>
<path d="M2168.5,871V975" fill="none" stroke="#f0341f" stroke-width="2.8"/><polygon fill="#f0341f" points="2168.5,995.5 2160.5,973.5 2176.5,973.5"/>
<path class="e2" d="M2168.5,1091V1135"/><polygon class="h2" points="2168.5,1156 2160.5,1134 2176.5,1134"/>
<path class="e2" d="M2407.8,1314C2411,1285 2410,1260 2403,1222C2398,1180 2393,1130 2388,1107C2383,1085 2375,1062 2368,1044C2352,1000 2340,960 2318,906.5C2312,897 2300,890 2285,880"/><polygon class="h2" points="2268.5,869.7 2291,873 2281,886"/>
<path class="e1" d="M2114,1252.6C2098,1262 2092,1278 2090,1298"/><polygon class="h1" points="2089,1317 2081,1295.5 2097,1295.5"/>
<path class="e1" d="M2207,1252.6L2278.4,1300C2295,1307 2325,1306 2345,1323"/><polygon class="h1" points="2362,1338 2342,1330 2350.5,1317"/>
<path class="e2" d="M2119,1412L2139,1460"/><polygon class="h2" points="2150,1489 2135,1472 2148,1466"/>
<path class="e1" d="M2267,1486L2345,1425"/><polygon class="h1" points="2362,1410.5 2348,1429 2339,1415"/>
<path class="e1" d="M2176,1549.6C2185,1536 2204,1525 2216,1540C2226,1556 2222,1590 2206,1591C2198,1592 2194,1590 2190,1587"/><polygon class="h1" points="2176.4,1575 2196,1583 2185,1594"/>
</g>

<g id="edge-labels">
<text x="2399" y="446" class="lb">initialise()</text>
<text x="2259.5" y="546" class="lb">initialise()</text>
<text x="2576" y="546" class="lb">initialise()</text>
<text x="2263.5" y="610" class="sp">spontaneous</text>
<text x="2444" y="610" class="sp">spontaneous</text>
<text x="2277" y="713" class="lb">areBothBarriersClosed()</text>
<text x="2170" y="911" class="lb" style="fill:#f0341f">stopTraffic()</text>
<text x="2168" y="1132.6" class="sp">spontaneous</text>
<text x="2389" y="1132.6" class="sp">spontaneous</text>
<text x="2096" y="1293" class="lb">bridgeClear()</text>
<text x="2281" y="1293" class="lb">startTraffic()</text>
<text x="2139.6" y="1466" class="sp">spontaneous</text>
<text x="2313" y="1466" class="lb">startTraffic()</text>
<text x="2222.7" y="1569.5" class="lb">areBothBarriersClosed()</text>
</g>
</g>

<g id="panel">
<rect x="795" y="1678" width="2297" height="186" fill="#181818"/>
<rect x="795" y="1677" width="2297" height="2" fill="#2b2b2b"/>
<text x="843" y="1731" class="pn" textLength="142" lengthAdjust="spacingAndGlyphs">PROBLEMS</text>
<text x="1044.5" y="1731" class="pn" style="fill:#e0e0e0" textLength="109" lengthAdjust="spacingAndGlyphs">OUTPUT</text>
<text x="1212" y="1731" class="pn" textLength="227" lengthAdjust="spacingAndGlyphs">DEBUG CONSOLE</text>
<text x="1497" y="1731" class="pn" textLength="132" lengthAdjust="spacingAndGlyphs">TERMINAL</text>
<text x="1688" y="1731" class="pn" textLength="88" lengthAdjust="spacingAndGlyphs">PORTS</text>
<rect x="1039" y="1746.5" width="120" height="3" fill="#3a78d0"/>
<rect x="2344" y="1699" width="407" height="44" rx="10" fill="#313131" stroke="#3c3c3c" stroke-width="2"/>
<text x="2364.5" y="1731.5" class="pn" style="fill:#cccccc;font-size:27px">Tasks</text>
<path d="M2705,1716L2717,1728L2729,1716" class="ic"/>
<path d="M2770,1709H2804M2770,1717H2804M2770,1725H2789M2770,1733H2789M2793,1723L2804,1734M2804,1723L2793,1734" class="ic"/>
<rect x="2835" y="1719" width="29" height="19" rx="3" class="ic"/><path d="M2840,1719V1712A9.5,8 0 0 1 2859,1712V1719" class="ic"/>
<g fill="#cccccc"><circle cx="2899" cy="1721" r="2.2"/><circle cx="2911" cy="1721" r="2.2"/><circle cx="2925" cy="1721" r="2.2"/></g>
<path d="M2963,1725L2975,1713L2986,1725" class="ic"/>
<path d="M3027,1711L3046,1730M3046,1711L3027,1730" class="ic"/>
<rect x="3059" y="1762" width="31" height="4" fill="#6a6a6a"/><rect x="3059" y="1766" width="1" height="97" fill="#2b2b2b"/>
</g>

<g id="statusbar">
<rect x="0" y="1862" width="3092" height="3" fill="#2b2b2b"/>
<path d="M0,1865.5H82V1916H24A24,24 0 0 1 0,1892Z" fill="#3a78d0"/>
<path d="M31,1885L41,1894L31,1903M51,1877L42,1885L51,1892" fill="none" stroke="#ffffff" stroke-width="2.2"/>
<circle cx="117" cy="1888" r="13.5" class="ic"/><path d="M111,1882L123,1894M123,1882L111,1894" class="ic"/>
<text x="143" y="1899" class="st">0</text>
<path d="M186,1875L200,1900H172Z" class="ic"/><path d="M186,1884V1892M186,1896V1897" class="ic"/>
<text x="212" y="1899" class="st">0</text>
<g class="ic"><circle cx="284" cy="1884" r="3.5"/><path d="M284,1888L276,1904M284,1888L292,1904M278,1899H290M275,1877Q270,1884 275,1891M293,1877Q298,1884 293,1891"/></g>
<text x="310" y="1899" class="st">0</text>
<g class="ic"><path d="M376,1893V1875L395,1885L384,1894"/><circle cx="373" cy="1898" r="6"/><path d="M365,1893L369,1895M365,1904L369,1901M381,1893L377,1895M381,1904L377,1901"/></g>
<text x="439" y="1899" class="st" textLength="72" lengthAdjust="spacingAndGlyphs">Popili</text>
<text x="2149" y="1898" class="st" textLength="353" lengthAdjust="spacingAndGlyphs">Ln 22, Col 8 (93 selected)</text>
<text x="2543" y="1898" class="st" textLength="132" lengthAdjust="spacingAndGlyphs">Spaces: 2</text>
<text x="2716" y="1898" class="st" textLength="86" lengthAdjust="spacingAndGlyphs">UTF-8</text>
<text x="2842" y="1898" class="st" textLength="32" lengthAdjust="spacingAndGlyphs">LF</text>
<text x="2913" y="1898" class="st" textLength="70" lengthAdjust="spacingAndGlyphs">Coco</text>
<path d="M3038.5,1875Q3031,1875 3031,1885V1893L3026,1897H3051L3046,1893V1885Q3046,1875 3038.5,1875ZM3034,1898Q3038.5,1904 3043,1898" class="ic"/>
</g>
</svg>
